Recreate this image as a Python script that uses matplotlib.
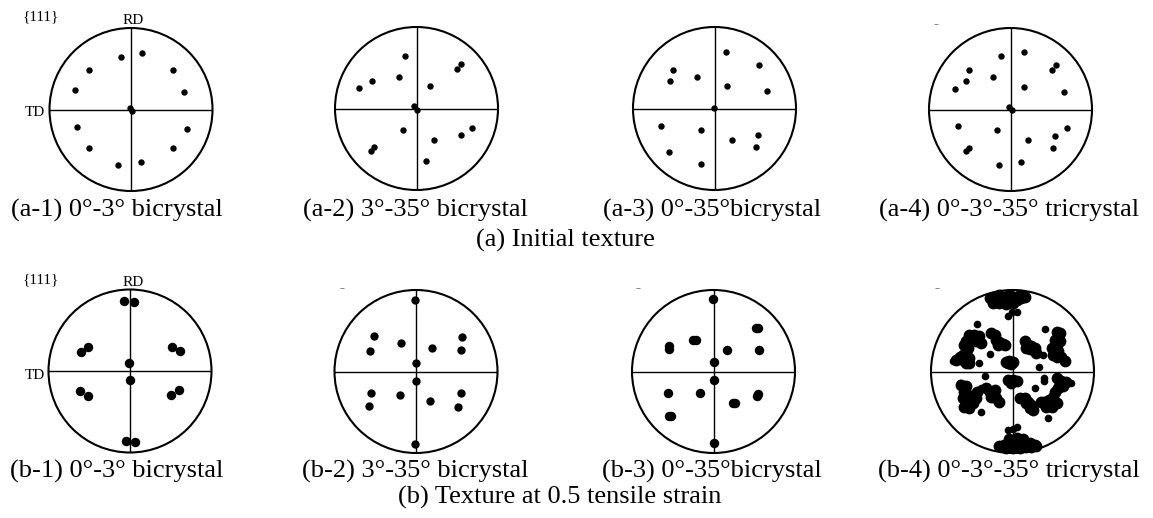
import numpy as np
import matplotlib
matplotlib.use('Agg')
import matplotlib.pyplot as plt
from matplotlib.patches import Circle

plt.rcParams['font.family'] = ['Liberation Serif', 'DejaVu Serif']

# pole figure points, normalised to the unit circle (x = TD side left, y = RD up)
a1_pts = [(-0.12, 0.65), (0.14, 0.69), (-0.51, 0.48), (0.51, 0.48), (-0.69, 0.24),
          (0.65, 0.21), (-0.015, 0.015), (0.015, -0.015), (-0.66, -0.21), (0.69, -0.24),
          (-0.51, -0.47), (0.51, -0.47), (-0.16, -0.68), (0.12, -0.65)]
a2_pts = [(-0.14, 0.65), (0.55, 0.54), (0.50, 0.48), (-0.55, 0.34), (-0.22, 0.39),
          (-0.70, 0.25), (0.16, 0.27), (-0.03, 0.03), (0.01, -0.02), (-0.16, -0.26),
          (0.68, -0.24), (0.54, -0.33), (0.22, -0.39), (-0.52, -0.47), (-0.56, -0.52),
          (0.12, -0.65)]
a3_pts = [(0.14, 0.69), (0.55, 0.53), (-0.51, 0.47), (-0.54, 0.34), (-0.22, 0.39),
          (0.15, 0.27), (0.65, 0.21), (-0.01, 0.01), (-0.66, -0.21), (-0.16, -0.26),
          (0.53, -0.33), (0.21, -0.39), (0.51, -0.47), (-0.56, -0.53), (-0.16, -0.68)]
a4_pts = [(-0.12, 0.66), (0.16, 0.70), (-0.51, 0.48), (0.56, 0.54), (0.51, 0.49),
          (-0.54, 0.35), (-0.21, 0.40), (-0.68, 0.25), (0.17, 0.27), (0.66, 0.22),
          (-0.02, 0.03), (0.02, -0.01), (-0.65, -0.20), (-0.16, -0.25), (0.69, -0.23),
          (0.55, -0.32), (0.22, -0.38), (-0.51, -0.47), (-0.55, -0.51), (0.52, -0.47),
          (-0.14, -0.68), (0.13, -0.64)]

b1_pts = [(-0.07, 0.86), (0.05, 0.85), (-0.52, 0.30), (-0.60, 0.23), (0.52, 0.30),
          (0.61, 0.24), (-0.01, 0.10), (0.00, -0.11), (-0.61, -0.24), (-0.52, -0.31),
          (0.60, -0.23), (0.50, -0.30), (-0.05, -0.86), (0.06, -0.87)]
b2_pts = [(-0.01, 0.88), (-0.51, 0.43), (-0.56, 0.25), (-0.18, 0.35), (0.20, 0.29),
          (0.57, 0.42), (0.55, 0.26), (0.00, 0.11), (0.00, -0.12), (-0.55, -0.26),
          (-0.58, -0.42), (-0.20, -0.29), (0.17, -0.36), (0.55, -0.26), (0.51, -0.44),
          (-0.01, -0.89)]
b3_pts = [(-0.01, 0.89), (-0.55, 0.31), (-0.54, 0.27), (-0.25, 0.39), (-0.22, 0.39),
          (0.16, 0.26), (0.52, 0.53), (0.54, 0.53), (0.56, 0.26), (0.00, 0.12),
          (0.00, -0.11), (-0.56, -0.26), (-0.17, -0.26), (-0.55, -0.54), (-0.52, -0.54),
          (0.24, -0.39), (0.26, -0.39), (0.54, -0.27), (0.53, -0.30), (0.01, -0.88)]
b4_blob_pts = [
    # top cluster
    (-0.28, 0.90), (-0.22, 0.92), (-0.16, 0.94), (-0.10, 0.92), (-0.04, 0.94), (0.02, 0.92),
    (0.09, 0.94), (0.15, 0.92), (-0.24, 0.84), (-0.16, 0.84), (-0.08, 0.83), (0.00, 0.84),
    (-0.04, 0.88), (-0.12, 0.88), (-0.20, 0.88), (0.05, 0.88), (0.11, 0.90),
    # upper left
    (-0.53, 0.45), (-0.47, 0.45), (-0.41, 0.43), (-0.39, 0.35), (-0.45, 0.37), (-0.51, 0.39),
    (-0.57, 0.37), (-0.59, 0.33), (-0.55, 0.29), (-0.57, 0.23), (-0.61, 0.20), (-0.65, 0.18),
    (-0.69, 0.14), (-0.61, 0.14), (-0.53, 0.16), (-0.53, 0.10), (-0.57, 0.10),
    (-0.26, 0.47), (-0.22, 0.45), (-0.20, 0.39), (-0.16, 0.36), (-0.12, 0.34), (-0.09, 0.33),
    (-0.18, 0.33),
    # centre
    (-0.08, 0.12), (-0.04, 0.13), (0.00, 0.12), (-0.06, 0.10), (-0.02, 0.09),
    (-0.05, -0.10), (0.00, -0.11), (0.05, -0.12), (-0.02, -0.14),
    # upper right
    (0.15, 0.37), (0.19, 0.33), (0.23, 0.31), (0.27, 0.29), (0.21, 0.27), (0.27, 0.25),
    (0.29, 0.23), (0.17, 0.29),
    (0.54, 0.49), (0.58, 0.47), (0.56, 0.41), (0.52, 0.39), (0.58, 0.37), (0.54, 0.33),
    (0.52, 0.27), (0.56, 0.25), (0.50, 0.20), (0.54, 0.18), (0.60, 0.18), (0.64, 0.13),
    (0.48, 0.29),
    # lower left
    (-0.63, -0.16), (-0.57, -0.18), (-0.59, -0.25), (-0.55, -0.29), (-0.61, -0.33),
    (-0.57, -0.37), (-0.59, -0.43), (-0.53, -0.45), (-0.49, -0.39), (-0.45, -0.33),
    (-0.51, -0.31), (-0.43, -0.25),
    (-0.32, -0.20), (-0.28, -0.25), (-0.24, -0.29), (-0.20, -0.33), (-0.16, -0.37),
    (-0.26, -0.31), (-0.22, -0.23),
    # lower right
    (0.54, -0.08), (0.58, -0.14), (0.62, -0.18), (0.56, -0.20), (0.52, -0.25), (0.50, -0.31),
    (0.45, -0.35), (0.39, -0.37), (0.35, -0.37), (0.41, -0.43), (0.48, -0.43), (0.54, -0.39),
    (0.60, -0.12), (0.66, -0.13),
    (0.09, -0.33), (0.15, -0.33), (0.19, -0.37), (0.23, -0.41), (0.21, -0.45), (0.25, -0.47),
    (0.17, -0.39),
    # bottom cluster
    (-0.16, -0.92), (-0.10, -0.90), (-0.04, -0.88), (0.02, -0.86), (0.09, -0.86), (0.15, -0.88),
    (0.21, -0.88), (0.27, -0.90), (0.29, -0.92), (-0.08, -0.94), (0.00, -0.94), (0.09, -0.94),
    (0.17, -0.93), (0.23, -0.93), (-0.04, -0.83), (0.05, -0.82), (0.13, -0.83)]
b4_dot_pts = [(-0.05, 0.68), (-0.01, 0.73), (0.05, 0.73), (-0.73, 0.13), (-0.43, 0.58),
              (-0.28, 0.21), (-0.41, 0.10), (0.40, 0.52), (0.37, 0.20), (0.32, 0.06),
              (-0.34, -0.05), (-0.39, -0.20), (-0.39, -0.50), (-0.65, -0.14),
              (0.39, -0.08), (0.39, -0.12), (0.28, -0.20), (0.72, -0.14), (0.43, -0.57),
              (-0.06, -0.72), (0.00, -0.70), (0.05, -0.68)]

# stray specks just outside some of the circles (upper left)
specks = {3: (-0.92, 1.05), 5: (-0.91, 1.03), 6: (-0.93, 1.03), 7: (-0.93, 1.03)}

panel_labels_a = ['(a-1) 0°-3° bicrystal', '(a-2) 3°-35° bicrystal',
                  '(a-3) 0°-35°bicrystal', '(a-4) 0°-3°-35° tricrystal']
panel_labels_b = ['(b-1) 0°-3° bicrystal', '(b-2) 3°-35° bicrystal',
                  '(b-3) 0°-35°bicrystal', '(b-4) 0°-3°-35° tricrystal']
row_titles = ['(a) Initial texture', '(b) Texture at 0.5 tensile strain']

W, H = 1153, 518
fig = plt.figure(figsize=(W / 100, H / 100), dpi=100)

def px(x, y):
    return x / W, 1 - y / H

def pole_figure(cx, cy, r):
    ax = fig.add_axes([(cx - r) / W, 1 - (cy + r) / H, 2 * r / W, 2 * r / H])
    ax.set_xlim(-1, 1)
    ax.set_ylim(-1, 1)
    ax.axis('off')
    ax.add_patch(Circle((0, 0), 1, fill=False, lw=1.5, color='black', clip_on=False))
    ax.axhline(0, color='black', lw=1.0)
    ax.axvline(0, color='black', lw=1.0)
    return ax

def dots(ax, pts, ms):
    p = np.array(pts)
    ax.plot(p[:, 0], p[:, 1], 'o', color='black', ms=ms, mew=0, clip_on=False)

centres = [(131, 109.5), (416.5, 108.5), (714.5, 108.5), (1010.5, 109.5),
           (130, 371), (416, 371.5), (713.5, 371.5), (1012.5, 371.5)]
R = 81.5
axes = [pole_figure(cx, cy, R) for cx, cy in centres]

for ax, pts in zip(axes[:4], [a1_pts, a2_pts, a3_pts, a4_pts]):
    dots(ax, pts, 4.6)
dots(axes[4], b1_pts, 6.8)
dots(axes[5], b2_pts, 6.0)
dots(axes[6], b3_pts, 6.8)
dots(axes[7], b4_blob_pts, 8.5)
dots(axes[7], b4_dot_pts, 5.5)
for i, (sx, sy) in specks.items():
    axes[i].plot([sx], [sy], marker='_', color='0.45', ms=2.5, mew=0.6, clip_on=False)

fs = 19
label_x = [117, 415, 712, 1009]
for x, t in zip(label_x, panel_labels_a):
    fig.text(*px(x, 210), t, fontsize=fs, ha='center', va='center')
for x, t in zip(label_x, panel_labels_b):
    fig.text(*px(x, 471.5), t, fontsize=fs, ha='center', va='center')
fig.text(*px(565, 240), row_titles[0], fontsize=fs, ha='center', va='center')
fig.text(*px(560, 497), row_titles[1], fontsize=fs, ha='center', va='center')

small = 11
for y0, ytd in [(17, 112.5), (280, 375.5)]:
    fig.text(*px(41, y0), '{111}', fontsize=small, ha='center', va='center')
    fig.text(*px(133, y0 + 3), 'RD', fontsize=small, ha='center', va='center')
    fig.text(*px(45, ytd), 'TD', fontsize=small, ha='right', va='center')

fig.savefig('out.png', dpi=100)
